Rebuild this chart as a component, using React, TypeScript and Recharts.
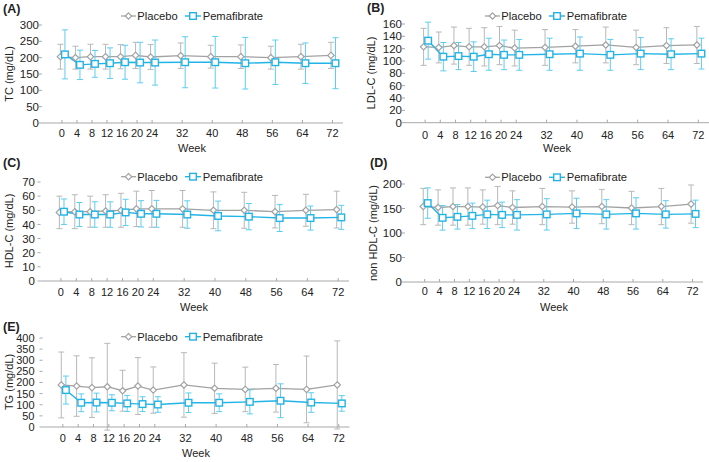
import React from 'react';
import { LineChart, Line, XAxis, YAxis, ErrorBar } from 'recharts';

const weeks = [0, 4, 8, 12, 16, 20, 24, 32, 40, 48, 56, 64, 72];

// (A) TC
const tcPlacebo = [203, 200, 203, 203, 203, 207, 202, 206, 203, 203, 200, 203, 207];
const tcPlaceboSd = [38, 35, 38, 38, 37, 40, 38, 39, 35, 36, 35, 38, 40];
const tcPema = [210, 178, 181, 183, 186, 185, 185, 186, 186, 183, 186, 183, 183];
const tcPemaSd = [75, 45, 41, 47, 52, 62, 69, 78, 79, 79, 68, 62, 78];
const tcTicks = [0, 50, 100, 150, 200, 250, 300];

// (B) LDL-C
const ldlPlacebo = [123, 122, 125, 123, 123, 125, 121, 122, 124, 126, 122, 125, 126];
const ldlPlaceboSd = [30, 25, 30, 30, 31, 31, 29, 29, 27, 29, 28, 29, 30];
const ldlPema = [133, 107, 108, 107, 111, 110, 110, 111, 112, 110, 112, 111, 112];
const ldlPemaSd = [30, 23, 22, 24, 26, 24, 25, 26, 27, 25, 26, 25, 25];
const ldlTicks = [0, 20, 40, 60, 80, 100, 120, 140, 160];

// (C) HDL-C
const hdlPlacebo = [48.5, 49, 49, 49.5, 50, 51, 51, 51, 50, 50, 49, 50, 50.5];
const hdlPlaceboSd = [11.5, 12, 11, 11.5, 12, 12.5, 13, 13, 13, 12.7, 11.5, 11.3, 13];
const hdlPema = [49, 47, 47, 47, 48.5, 47.5, 47.5, 47, 46, 45.5, 44.5, 44.5, 45];
const hdlPemaSd = [9, 8.5, 9, 9, 9.3, 9.3, 9.5, 9.7, 10.5, 9.3, 9.5, 8.5, 8.5];
const hdlTicks = [0, 10, 20, 30, 40, 50, 60, 70];

// (D) non HDL-C
const nonHdlPlacebo = [154, 152, 154, 154, 153, 156, 152, 154, 153, 154, 151, 154, 159];
const nonHdlPlaceboSd = [37, 36, 38, 38, 35, 39, 34, 37, 33, 35, 34, 37, 39];
const nonHdlPema = [161, 131, 133, 135, 138, 137, 137, 138, 140, 138, 140, 138, 139];
const nonHdlPemaSd = [31, 25, 25, 26, 29, 26, 31, 32, 31, 30, 32, 28, 28];
const nonHdlTicks = [0, 50, 100, 150, 200];

// (E) TG
const tgPlacebo = [189, 184, 177, 181, 163, 184, 166, 189, 174, 169, 174, 169, 189];
const tgPlaceboSd = [148, 136, 134, 195, 92, 128, 104, 145, 113, 100, 107, 150, 198];
const tgPema = [166, 109, 110, 109, 106, 103, 101, 109, 109, 113, 118, 110, 106];
const tgPemaSd = [63, 40, 42, 36, 36, 33, 35, 44, 40, 54, 76, 44, 35];
const tgTicks = [0, 50, 100, 150, 200, 250, 300, 350, 400];

const seriesNames = ['Placebo', 'Pemafibrate'];

const FONT = '"Liberation Sans", Arial, Helvetica, sans-serif';
const GRAY = '#a2a2a2';
const GRAY_ERR = '#b8b8b8';
const CYAN = '#22b4e6';
const CYAN_ERR = '#5ccdf2';
const AXIS = '#a8a8a8';
const TEXT = '#222';
const PLACEBO_SHIFT = -0.4;
const PEMA_SHIFT = 0.8;
const X_DOMAIN: [number, number] = [-5.3, 74.8];

const build = (vals: number[], sds: number[], shift: number) =>
  weeks.map((w, i) => ({ x: w + shift, v: vals[i], sd: sds[i] }));

const DiamondDot = (props: any) => {
  const { cx, cy, index } = props;
  if (cx == null || cy == null) return null;
  const r = 3.2;
  return (
    <path
      key={'d' + index}
      d={`M${cx},${cy - r}L${cx + r},${cy}L${cx},${cy + r}L${cx - r},${cy}Z`}
      fill="#fff"
      stroke={GRAY}
      strokeWidth={1.2}
    />
  );
};

const SquareDot = (props: any) => {
  const { cx, cy, index } = props;
  if (cx == null || cy == null) return null;
  const h = 3.3;
  return (
    <rect
      key={'s' + index}
      x={cx - h}
      y={cy - h}
      width={h * 2}
      height={h * 2}
      fill="#fff"
      stroke={CYAN}
      strokeWidth={1.4}
    />
  );
};

type PanelCfg = {
  cx: number; cy: number; cw: number; ch: number;
  L: number; R: number; T: number; B: number;
  yTicks: number[];
  placebo: number[]; placeboSd: number[];
  pema: number[]; pemaSd: number[];
  xGap: number; yGap: number; yFont: number;
};

const YW = 30;
const XH = 18;

const Panel = ({ p }: { p: PanelCfg }) => {
  const placeboData = build(p.placebo, p.placeboSd, PLACEBO_SHIFT);
  const pemaData = build(p.pema, p.pemaSd, PEMA_SHIFT);
  const margin = {
    left: p.L - p.cx - YW,
    right: p.cx + p.cw - p.R,
    top: p.T - p.cy,
    bottom: p.cy + p.ch - p.B - XH,
  };
  const yMax = p.yTicks[p.yTicks.length - 1];
  return (
    <div style={{ position: 'absolute', left: p.cx, top: p.cy, width: p.cw, height: p.ch }}>
      <LineChart width={p.cw} height={p.ch} margin={margin}>
        <XAxis
          type="number"
          dataKey="x"
          domain={X_DOMAIN}
          ticks={weeks}
          allowDataOverflow
          interval={0}
          height={XH}
          stroke={AXIS}
          tickSize={-3}
          tickMargin={p.xGap}
          tick={{ fill: TEXT, fontSize: 11, fontFamily: FONT }}
          tickLine={{ stroke: AXIS }}
        />
        <YAxis
          type="number"
          domain={[0, yMax]}
          ticks={p.yTicks}
          allowDataOverflow
          interval={0}
          width={YW}
          axisLine={false}
          tickSize={3}
          tickMargin={p.yGap}
          tick={{ fill: TEXT, fontSize: p.yFont, fontFamily: FONT }}
          tickLine={{ stroke: AXIS }}
        />
        <Line
          data={placeboData}
          dataKey="v"
          name={seriesNames[0]}
          stroke={GRAY}
          strokeWidth={1.3}
          dot={DiamondDot}
          activeDot={false}
          isAnimationActive={false}
        >
          <ErrorBar dataKey="sd" direction="y" width={3} stroke={GRAY_ERR} strokeWidth={1} isAnimationActive={false} />
        </Line>
        <Line
          data={pemaData}
          dataKey="v"
          name={seriesNames[1]}
          stroke={CYAN}
          strokeWidth={1.4}
          dot={SquareDot}
          activeDot={false}
          isAnimationActive={false}
        >
          <ErrorBar dataKey="sd" direction="y" width={3} stroke={CYAN_ERR} strokeWidth={1} isAnimationActive={false} />
        </Line>
      </LineChart>
    </div>
  );
};

const LegendGlyphs = ({ x, y }: { x: number; y: number }) => {
  const r = 3.2;
  const h = 3.3;
  const d1 = x + 7.5;
  const d2 = x + 72;
  return (
    <g>
      <line x1={x} y1={y} x2={x + 15} y2={y} stroke={GRAY} strokeWidth={1.3} />
      <path d={`M${d1},${y - r}L${d1 + r},${y}L${d1},${y + r}L${d1 - r},${y}Z`} fill="#fff" stroke={GRAY} strokeWidth={1.2} />
      <text x={x + 16.3} y={y + 4} fontSize={11.2} fill={TEXT} fontFamily={FONT}>{seriesNames[0]}</text>
      <line x1={x + 64} y1={y} x2={x + 80} y2={y} stroke={CYAN} strokeWidth={1.4} />
      <rect x={d2 - h} y={y - h} width={h * 2} height={h * 2} fill="#fff" stroke={CYAN} strokeWidth={1.4} />
      <text x={x + 81.7} y={y + 4} fontSize={11.2} fill={TEXT} fontFamily={FONT}>{seriesNames[1]}</text>
    </g>
  );
};

const panels: PanelCfg[] = [
  { cx: 0, cy: 0, cw: 350, ch: 145, L: 42, R: 343, T: 25, B: 123, yTicks: tcTicks,
    placebo: tcPlacebo, placeboSd: tcPlaceboSd, pema: tcPema, pemaSd: tcPemaSd, xGap: 9, yGap: 0, yFont: 11.5 },
  { cx: 355, cy: 0, cw: 354, ch: 145, L: 405, R: 709, T: 24, B: 122.7, yTicks: ldlTicks,
    placebo: ldlPlacebo, placeboSd: ldlPlaceboSd, pema: ldlPema, pemaSd: ldlPemaSd, xGap: 11, yGap: 0, yFont: 11.5 },
  { cx: 0, cy: 150, cw: 352, ch: 150, L: 40.5, R: 349, T: 182, B: 281, yTicks: hdlTicks,
    placebo: hdlPlacebo, placeboSd: hdlPlaceboSd, pema: hdlPema, pemaSd: hdlPemaSd, xGap: 10, yGap: 2.5, yFont: 11.5 },
  { cx: 355, cy: 150, cw: 354, ch: 150, L: 405, R: 703, T: 184, B: 282, yTicks: nonHdlTicks,
    placebo: nonHdlPlacebo, placeboSd: nonHdlPlaceboSd, pema: nonHdlPema, pemaSd: nonHdlPemaSd, xGap: 8, yGap: 0, yFont: 11.5 },
  { cx: 0, cy: 300, cw: 352, ch: 162, L: 42.5, R: 349.5, T: 338, B: 427, yTicks: tgTicks,
    placebo: tgPlacebo, placeboSd: tgPlaceboSd, pema: tgPema, pemaSd: tgPemaSd, xGap: 10, yGap: 5, yFont: 11 },
];

const titles = [
  { t: '(A)', x: 3, y: 12.5 },
  { t: '(B)', x: 367, y: 11.5 },
  { t: '(C)', x: 3, y: 167 },
  { t: '(D)', x: 370, y: 167 },
  { t: '(E)', x: 3, y: 331 },
];
const yLabels = [
  { t: 'TC (mg/dL)', x: 8.5, y: 74 },
  { t: 'LDL-C (mg/dL)', x: 371, y: 73 },
  { t: 'HDL-C (mg/dL)', x: 8.7, y: 231 },
  { t: 'non HDL-C (mg/dL)', x: 373, y: 233 },
  { t: 'TG (mg/dL)', x: 8.5, y: 382 },
];
const weekLabels = [
  { x: 192, y: 152 },
  { x: 557, y: 152 },
  { x: 194, y: 310.5 },
  { x: 554, y: 310.5 },
  { x: 196, y: 456.5 },
];
const legends = [
  { x: 121, y: 16 },
  { x: 485, y: 16 },
  { x: 121, y: 176.7 },
  { x: 485, y: 177.3 },
  { x: 121, y: 336.7 },
];

export default function App() {
  return (
    <div style={{ position: 'absolute', left: 0, top: 0, width: 709, height: 462, background: '#fff', overflow: 'hidden' }}>
      {panels.map((p, i) => (
        <Panel key={i} p={p} />
      ))}
      <svg width={709} height={462} style={{ position: 'absolute', left: 0, top: 0, pointerEvents: 'none' }}>
        {titles.map((t, i) => (
          <text key={'t' + i} x={t.x} y={t.y} fontSize={12.5} fontWeight="bold" fill={TEXT} fontFamily={FONT}>{t.t}</text>
        ))}
        {yLabels.map((t, i) => (
          <text key={'y' + i} x={t.x} y={t.y} fontSize={11} fill={TEXT} fontFamily={FONT}
            textAnchor="middle" dominantBaseline="central" transform={`rotate(-90 ${t.x} ${t.y})`}>{t.t}</text>
        ))}
        {weekLabels.map((t, i) => (
          <text key={'w' + i} x={t.x} y={t.y} fontSize={11} fill={TEXT} fontFamily={FONT} textAnchor="middle">Week</text>
        ))}
        {legends.map((l, i) => (
          <LegendGlyphs key={'l' + i} x={l.x} y={l.y} />
        ))}
      </svg>
    </div>
  );
}
